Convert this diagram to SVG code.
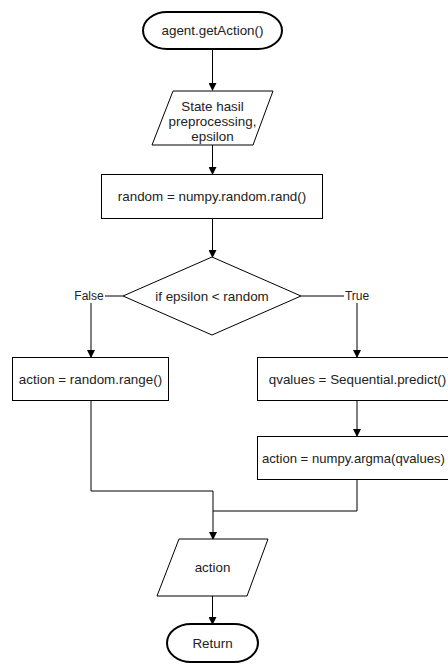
<svg xmlns="http://www.w3.org/2000/svg" width="448" height="664" viewBox="0 0 448 664">
<defs>
<marker id="arr" markerWidth="8" markerHeight="8" refX="7" refY="4" orient="auto" markerUnits="userSpaceOnUse">
<path d="M0,0 L8,4 L0,8 Z" fill="#000"/>
</marker>
<style>
.shape{fill:#fff;stroke:#000;stroke-width:1}
.term{fill:#fff;stroke:#000;stroke-width:2}
.t{font-family:"Liberation Sans",Arial,sans-serif;font-size:13.4px;fill:#222;text-anchor:middle;dominant-baseline:central}
.e{fill:none;stroke:#000;stroke-width:1}
.lbl{font-family:"Liberation Sans",Arial,sans-serif;font-size:12px;fill:#222;text-anchor:middle;dominant-baseline:central}
</style>
</defs>
<rect width="448" height="664" fill="#fff"/>
<g id="connectors">
<path class="e" d="M212.5,49 V90" marker-end="url(#arr)"/>
<path class="e" d="M212.5,145 V174" marker-end="url(#arr)"/>
<path class="e" d="M212.5,219 V257" marker-end="url(#arr)"/>
<path class="e" d="M123,296 H91 V357" marker-end="url(#arr)"/>
<path class="e" d="M301,296 H357 V357" marker-end="url(#arr)"/>
<path class="e" d="M357,401 V436" marker-end="url(#arr)"/>
<path class="e" d="M91,400 V491 H213 V539" marker-end="url(#arr)"/>
<path class="e" d="M357,480 V511 H213"/>
<path class="e" d="M212.5,596 V624" marker-end="url(#arr)"/>
<rect x="74" y="289" width="31" height="14" fill="#fff"/>
<text class="lbl" x="89" y="296">False</text>
<rect x="344" y="289" width="26" height="14" fill="#fff"/>
<text class="lbl" x="357" y="296">True</text>
</g>
<g id="start">
<rect class="term" x="143" y="12" width="139" height="37" rx="24" ry="18.5"/>
<text class="t" x="212.5" y="30.5">agent.getAction()</text>
</g>
<g id="input">
<polygon class="shape" points="173,91 273,91 253,145 152,145"/>
<text class="t" x="212.5" y="106">State hasil</text>
<text class="t" x="212.5" y="121">preprocessing,</text>
<text class="t" x="212.5" y="136">epsilon</text>
</g>
<g id="rand">
<rect class="shape" x="101.5" y="174.5" width="221" height="44"/>
<text class="t" x="212" y="196.5">random = numpy.random.rand()</text>
</g>
<g id="decision">
<polygon class="shape" points="212,257 301,296 212,335 123,296"/>
<text class="t" x="212" y="296">if epsilon &lt; random</text>
</g>
<g id="randomAction">
<rect class="shape" x="12.5" y="357.5" width="156" height="43"/>
<text class="t" x="90.5" y="379">action = random.range()</text>
</g>
<g id="predict">
<rect class="shape" x="257.5" y="357.5" width="200" height="43"/>
<text class="t" x="357.5" y="379">qvalues = Sequential.predict()</text>
</g>
<g id="argmax">
<rect class="shape" x="257.5" y="436.5" width="200" height="43"/>
<text class="t" x="262" y="458" style="text-anchor:start" textLength="183" lengthAdjust="spacingAndGlyphs">action = numpy.argma(qvalues)</text>
</g>
<g id="output">
<polygon class="shape" points="179,539 268,539 247,596 157,596"/>
<text class="t" x="212.5" y="567.5">action</text>
</g>
<g id="end">
<rect class="term" x="167" y="624" width="91" height="38" rx="24" ry="19"/>
<text class="t" x="212.5" y="643">Return</text>
</g>
</svg>
